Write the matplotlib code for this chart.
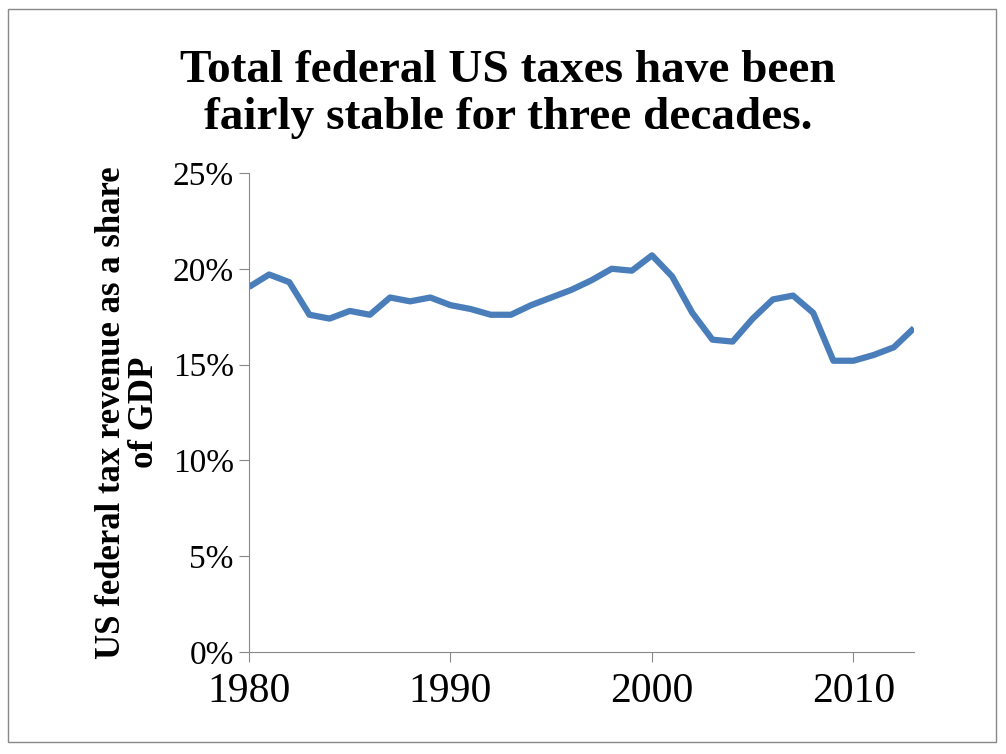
import numpy as np
from matplotlib import pyplot as plt
from matplotlib.patches import Rectangle

years = list(range(1980, 2014))
revenue = [19.05, 19.7, 19.3, 17.6, 17.4, 17.8, 17.6, 18.5, 18.3, 18.5,
           18.1, 17.9, 17.6, 17.6, 18.1, 18.5, 18.9, 19.4, 20.0, 19.9,
           20.7, 19.6, 17.7, 16.3, 16.2, 17.4, 18.4, 18.6, 17.7, 15.2,
           15.2, 15.5, 15.9, 16.9]
y_ticks = [0, 5, 10, 15, 20, 25]
x_ticks = [1980, 1990, 2000, 2010]

fig = plt.figure(figsize=(10.06, 7.54), dpi=100)
fig.patches.append(Rectangle((0.008, 0.016), 0.982, 0.972, transform=fig.transFigure,
                             fill=False, edgecolor="#888888", linewidth=1))
ax = fig.add_axes([0.2475, 0.1353, 0.661, 0.6353])
ax.plot(years, revenue, color="#4a7ebb", linewidth=4.5, solid_capstyle="butt")
ax.set_xlim(1980, 2013)
ax.set_ylim(0, 25)
ax.set_yticks(y_ticks)
ax.set_yticklabels([f"{v}%" for v in y_ticks], fontsize=24, family="Liberation Serif")
ax.set_xticks(x_ticks)
ax.set_xticklabels([str(v) for v in x_ticks], fontsize=30, family="Liberation Serif")
ax.tick_params(axis="x", length=7, color="#888888", pad=8)
ax.tick_params(axis="y", length=7, color="#888888", pad=4)
for s in ["top", "right"]:
    ax.spines[s].set_visible(False)
for s in ["left", "bottom"]:
    ax.spines[s].set_color("#888888")
ax.set_ylabel("US federal tax revenue as a share\nof GDP", fontsize=25,
              fontweight="bold", family="Liberation Serif", labelpad=8, linespacing=1.0)
fig.text(0.505, 0.875, "Total federal US taxes have been\nfairly stable for three decades.",
         ha="center", va="center", fontsize=34, fontweight="bold",
         family="Liberation Serif", linespacing=1.15)
fig.savefig("out.png")
